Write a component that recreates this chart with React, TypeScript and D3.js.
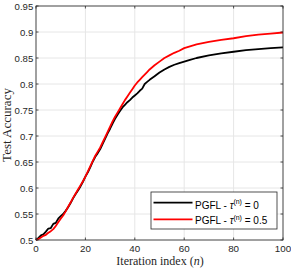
import React from "react";
import * as d3 from "d3";

const iterN = [0,1,2,3,4,5,6,7,8,9,10,11,12,13,14,15,16,17,18,19,20,21,22,23,24,25,26,27,28,29,30,31,32,33,34,35,36,37,38,39,40,41,42,43,44,45,46,48,50,52,54,56,58,60,62,65,70,75,80,85,90,95,100];
const accTau0 = [0.500,0.504,0.509,0.511,0.516,0.522,0.523,0.531,0.533,0.541,0.546,0.550,0.556,0.563,0.571,0.580,0.588,0.595,0.603,0.612,0.622,0.630,0.640,0.651,0.660,0.667,0.675,0.685,0.695,0.705,0.714,0.724,0.733,0.741,0.748,0.755,0.760,0.765,0.769,0.774,0.778,0.782,0.787,0.791,0.800,0.804,0.808,0.815,0.822,0.828,0.833,0.837,0.840,0.843,0.846,0.850,0.855,0.859,0.862,0.865,0.867,0.869,0.8705];
const accTau05 = [0.500,0.502,0.505,0.508,0.510,0.514,0.517,0.521,0.527,0.534,0.541,0.547,0.555,0.564,0.572,0.581,0.589,0.597,0.605,0.613,0.622,0.632,0.642,0.652,0.662,0.670,0.678,0.688,0.698,0.708,0.718,0.728,0.737,0.745,0.753,0.761,0.769,0.776,0.783,0.790,0.797,0.803,0.808,0.813,0.818,0.823,0.828,0.836,0.843,0.850,0.855,0.860,0.864,0.869,0.872,0.876,0.881,0.885,0.888,0.892,0.895,0.897,0.899];
const xTicks = [0,20,40,60,80,100];
const yTicks = [0.5,0.55,0.6,0.65,0.7,0.75,0.8,0.85,0.9,0.95];
const seriesNames = ["0", "0.5"];
const seriesColors = ["#000000", "#ff0000"];

export default function App() {
  const W = 291, H = 268;
  const x = d3.scaleLinear().domain([0, 100]).range([36, 283]);
  const y = d3.scaleLinear().domain([0.5, 0.95]).range([240, 6]);
  const series = [accTau0, accTau05];
  const line = d3.line<number>().x((_, i) => x(iterN[i])).y((d) => y(d));
  const axisColor = "#262626";
  const sans = "Liberation Sans, Arial, Helvetica, sans-serif";
  const serif = "Liberation Serif, Times New Roman, serif";
  return (
    <svg width={W} height={H} style={{ position: "absolute", left: 0, top: 0, background: "#fff" }}>
      <rect x={0} y={0} width={W} height={H} fill="#fff" />
      {xTicks.map((t) => (
        <line key={"gx" + t} x1={x(t)} x2={x(t)} y1={y(0.5)} y2={y(0.95)} stroke="#e6e6e6" strokeWidth={1} />
      ))}
      {yTicks.map((t) => (
        <line key={"gy" + t} x1={x(0)} x2={x(100)} y1={y(t)} y2={y(t)} stroke="#e6e6e6" strokeWidth={1} />
      ))}
      {series.map((s, k) => (
        <path key={"s" + k} d={line(s) || ""} fill="none" stroke={seriesColors[k]} strokeWidth={1.8} strokeLinejoin="round" />
      ))}
      <rect x={x(0)} y={y(0.95)} width={x(100) - x(0)} height={y(0.5) - y(0.95)} fill="none" stroke={axisColor} strokeWidth={0.8} />
      {xTicks.map((t) => (
        <g key={"tx" + t}>
          <line x1={x(t)} x2={x(t)} y1={y(0.5)} y2={y(0.5) - 2.5} stroke={axisColor} strokeWidth={0.8} />
          <line x1={x(t)} x2={x(t)} y1={y(0.95)} y2={y(0.95) + 2.5} stroke={axisColor} strokeWidth={0.8} />
          <text x={x(t)} y={251.5} textAnchor="middle" fontFamily={sans} fontSize={9.8} fill={axisColor}>{t}</text>
        </g>
      ))}
      {yTicks.map((t) => (
        <g key={"ty" + t}>
          <line x1={x(0)} x2={x(0) + 2.5} y1={y(t)} y2={y(t)} stroke={axisColor} strokeWidth={0.8} />
          <line x1={x(100)} x2={x(100) - 2.5} y1={y(t)} y2={y(t)} stroke={axisColor} strokeWidth={0.8} />
          <text x={33.3} y={y(t) + 3.5} textAnchor="end" fontFamily={sans} fontSize={9.6} fill={axisColor}>{String(t)}</text>
        </g>
      ))}
      <text x={160} y={264.5} textAnchor="middle" fontFamily={serif} fontSize={12} fill={axisColor}>
        Iteration index (<tspan fontStyle="italic">n</tspan>)
      </text>
      <text transform={`translate(11,125) rotate(-90)`} textAnchor="middle" fontFamily={serif} fontSize={13} fill={axisColor}>
        Test Accuracy
      </text>
      <g>
        <rect x={151} y={192} width={126} height={37} fill="#fff" stroke={axisColor} strokeWidth={0.8} />
        {seriesNames.map((nm, k) => {
          const ly = 202.7 + k * 16.6;
          return (
            <g key={"lg" + k}>
              <line x1={153.5} x2={192.5} y1={ly} y2={ly} stroke={seriesColors[k]} strokeWidth={1.8} />
              <text x={195} y={208.6 + k * 15.7} fontFamily={sans} fontSize={10} fill="#000">
                PGFL - <tspan fontStyle="italic">{"\u03C4"}</tspan><tspan dy={-4.5} fontSize={7}>(n)</tspan><tspan dy={4.5}> = {nm}</tspan>
              </text>
            </g>
          );
        })}
      </g>
    </svg>
  );
}
